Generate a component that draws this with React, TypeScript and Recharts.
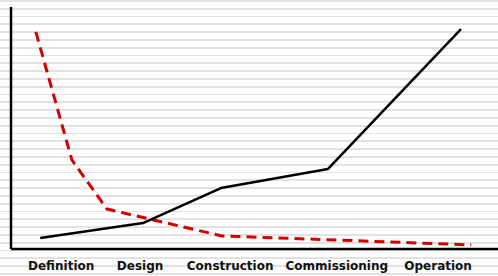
import { LineChart, Line, XAxis, YAxis } from 'recharts';

// phase labels and where they sit along the horizontal scale (0-100)
const phases = ['Definition', 'Design', 'Construction', 'Commissioning', 'Operation'];
const phasePos = [10.3, 26.5, 45.0, 66.9, 87.7];

// cost of changes (black, rising)
const costX = [6.0, 27.1, 43.1, 65.1, 92.4];
const costY = [4.5, 10.7, 25.2, 33.1, 90.9];

// ability to influence (red dashed, falling)
const influenceX = [5.1, 12.5, 19.7, 43.3, 94.5];
const influenceY = [89.7, 36.8, 16.5, 5.4, 1.7];

const costData = costX.map((x, i) => ({ x, y: costY[i] }));
const influenceData = influenceX.map((x, i) => ({ x, y: influenceY[i] }));

function PhaseTick(props: any) {
  const { x, y, payload } = props;
  const idx = phasePos.indexOf(payload.value);
  return (
    <text
      x={x}
      y={y + 21}
      textAnchor="middle"
      fontFamily="DejaVu Sans"
      fontWeight="bold"
      fontSize={12}
      fill="#111"
    >
      {phases[idx]}
    </text>
  );
}

export default function App() {
  return (
    <div
      style={{
        width: 498,
        height: 276,
        background:
          'repeating-linear-gradient(to bottom, #e2e2e2 0px, #e2e2e2 1.8px, #ffffff 1.8px, #ffffff 7.8px)',
      }}
    >
      <style>{'body{margin:0}'}</style>
      <LineChart width={498} height={276} margin={{ top: 7, right: 0, bottom: 0, left: 0 }}>
        <XAxis
          type="number"
          dataKey="x"
          domain={[0, 100]}
          ticks={phasePos}
          tick={<PhaseTick />}
          tickLine={false}
          tickSize={0}
          tickMargin={0}
          height={27}
          axisLine={{ stroke: '#000', strokeWidth: 2.5 }}
          allowDataOverflow
        />
        <YAxis
          type="number"
          domain={[0, 100]}
          width={11}
          tick={false}
          tickLine={false}
          axisLine={{ stroke: '#000', strokeWidth: 2.5 }}
          allowDataOverflow
        />
        <Line
          data={influenceData}
          dataKey="y"
          type="linear"
          stroke="#d40000"
          strokeWidth={3}
          strokeDasharray="10 6"
          strokeLinejoin="round"
          dot={false}
          activeDot={false}
          isAnimationActive={false}
        />
        <Line
          data={costData}
          dataKey="y"
          type="linear"
          stroke="#000"
          strokeWidth={2.5}
          strokeLinejoin="round"
          dot={false}
          activeDot={false}
          isAnimationActive={false}
        />
      </LineChart>
    </div>
  );
}
